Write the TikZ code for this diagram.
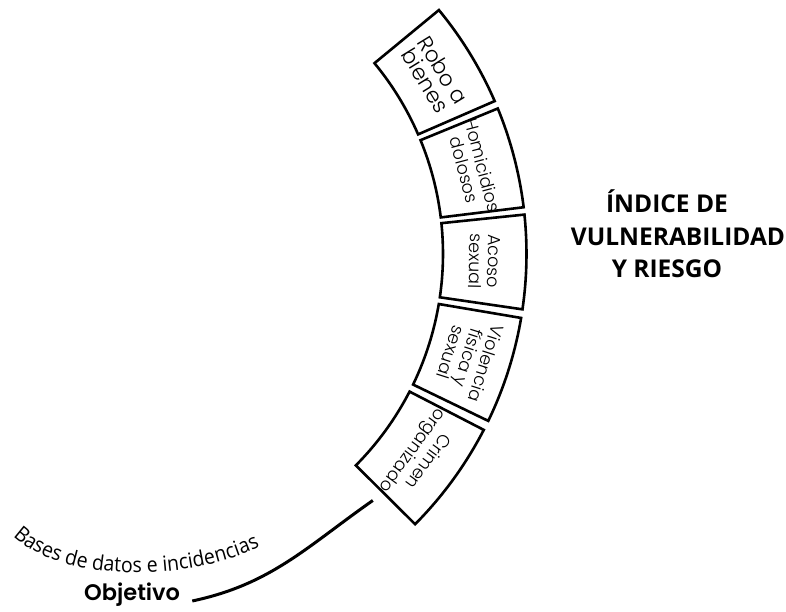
\documentclass[tikz,border=0pt]{standalone}
\usepackage{fontspec}
\setmainfont{Poppins}
\IfFontExistsTF{Poppins Light}{\newfontfamily\boxfont{Poppins Light}}{\newfontfamily\boxfont{Poppins}}
\IfFontExistsTF{Poppins SemiBold}{\newfontfamily\objfont{Poppins SemiBold}}{\newfontfamily\objfont{Poppins}[BoldFont={* Bold}]}
\newfontfamily\titlefont{Open Sans}
\newfontfamily\basesfont[FakeStretch=0.93]{Open Sans}
\usetikzlibrary{decorations.text,calc}
\newcommand{\ringbox}[5]{%
  \draw[boxline] ([shift={(#1:300pt)}]C) arc[start angle=#1, end angle=#2, radius=300pt]
    -- ([shift={(#2:383.5pt)}]C) arc[start angle=#2, end angle=#1, radius=383.5pt] -- cycle;
  \pgfmathsetmacro\ringmid{(#1+#2)/2}
  \node[boxtext, #5, rotate=\ringmid-90] (#3) at ([shift={(\ringmid:341.75pt)}]C) {#4};
}
\begin{document}
\begin{tikzpicture}[x=1pt,y=1pt,
  boxline/.style={line width=2.6pt, line join=miter, fill=white},
  boxtext/.style={align=center, inner sep=0pt, font=\boxfont\fontsize{17.5}{18.5}\selectfont},
  bigtext/.style={font=\boxfont\fontsize{21.5}{20}\selectfont},
  titletext/.style={font=\titlefont\bfseries\fontsize{24.5}{28}\selectfont, inner sep=0pt, anchor=base},
  objtext/.style={font=\objfont\fontsize{22.5}{24}\selectfont, inner sep=0pt, anchor=base west},
  conn/.style={line width=3pt},
  ]
\useasboundingbox (0,0) rectangle (786,612);
\coordinate (C) at (143,358);
\ringbox{39.5}{23.5}{robo}{Robo a\\bienes}{bigtext}
\ringbox{22.3}{7.0}{homi}{Homicidios\\dolosos}{}
\ringbox{5.9}{-8.3}{acoso}{Acoso\\sexual}{}
\ringbox{-9.6}{-25.8}{viol}{Violencia\\física y\\sexual}{}
\ringbox{-27.3}{-44.8}{crimen}{Crimen\\organizado}{}
\coordinate (tip) at ([shift={(-47:337pt)}]C);
\node[titletext] (t1) at (667,399) {ÍNDICE DE};
\node[titletext] (t2) at (678,366) {VULNERABILIDAD};
\node[titletext] (t3) at (667,334) {Y RIESGO};
\node[objtext] (obj) at (84,11) {Objetivo};
\draw[conn] ([xshift=12pt]obj.base east) to[out=12,in=215] (tip);
\path[decorate, decoration={text along path,
  text={|\basesfont\fontsize{21}{22}\selectfont|Bases de datos e incidencias},
  text align=left}] (13,76) .. controls (64,28) and (190,30) .. (262,66);
\end{tikzpicture}
\end{document}
